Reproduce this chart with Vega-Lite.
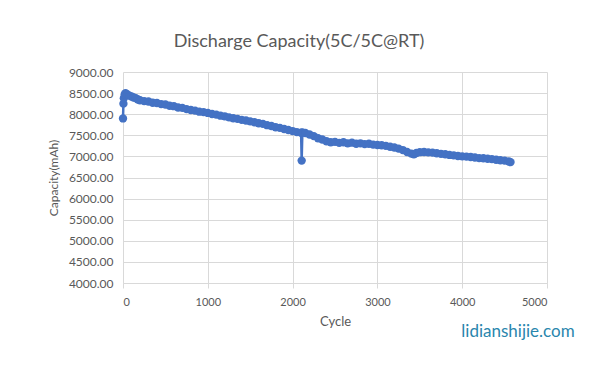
{
  "$schema": "https://vega.github.io/schema/vega-lite/v6.json",
  "width": 424,
  "height": 211,
  "autosize": {"type": "none"},
  "padding": {"left": 123, "top": 72, "right": 53, "bottom": 83},
  "background": "white",
  "title": {
    "text": "Discharge Capacity(5C/5C@RT)",
    "anchor": "middle",
    "dx": -36,
    "offset": 15,
    "font": "Lato",
    "fontSize": 18,
    "fontWeight": "normal",
    "color": "#595959"
  },
  "config": {
    "view": {"stroke": null},
    "axis": {
      "labelFont": "Lato",
      "titleFont": "Lato",
      "labelColor": "#595959",
      "titleColor": "#595959",
      "titleFontWeight": "normal",
      "gridColor": "#d9d9d9",
      "domainColor": "#d9d9d9",
      "tickColor": "#d9d9d9"
    }
  },
  "layer": [
    {
      "data": {"name": "series"},
      "encoding": {
        "x": {
          "field": "cycle",
          "type": "quantitative",
          "scale": {"domain": [0, 5000], "nice": false, "zero": false},
          "axis": {
            "title": "Cycle",
            "values": [0, 1000, 2000, 3000, 4000, 5000],
            "format": "d",
            "labelFontSize": 11,
            "labelPadding": 8,
            "tickSize": 5,
            "titleFontSize": 13,
            "titlePadding": 8,
            "domain": true,
            "grid": true
          }
        },
        "y": {
          "field": "capacity",
          "type": "quantitative",
          "scale": {"domain": [4000, 9000], "nice": false, "zero": false},
          "axis": {
            "title": "Capacity(mAh)",
            "values": [4000, 4500, 5000, 5500, 6000, 6500, 7000, 7500, 8000, 8500, 9000],
            "format": ".2f",
            "labelFontSize": 12,
            "labelPadding": 10,
            "ticks": false,
            "domain": false,
            "titleFontSize": 12,
            "titlePadding": 8,
            "grid": true
          }
        }
      },
      "layer": [
        {"mark": {"type": "line", "color": "#4472C4", "strokeWidth": 2.5}},
        {"mark": {"type": "point", "filled": true, "color": "#4472C4", "opacity": 1, "size": 70}}
      ]
    },
    {
      "data": {"values": [{"label": "lidianshijie.com", "cycle": 4658, "capacity": 2839}]},
      "mark": {"type": "text", "font": "Lato", "fontSize": 17, "fontWeight": "normal", "color": "#2a86ad", "align": "center", "baseline": "middle"},
      "encoding": {
        "text": {"field": "label", "type": "nominal"},
        "x": {
          "field": "cycle",
          "type": "quantitative",
          "scale": {"domain": [0, 5000], "nice": false, "zero": false},
          "axis": {
            "title": "Cycle",
            "values": [0, 1000, 2000, 3000, 4000, 5000],
            "format": "d",
            "labelFontSize": 11,
            "labelPadding": 8,
            "tickSize": 5,
            "titleFontSize": 13,
            "titlePadding": 8,
            "domain": true,
            "grid": true
          }
        },
        "y": {
          "field": "capacity",
          "type": "quantitative",
          "scale": {"domain": [4000, 9000], "nice": false, "zero": false},
          "axis": {
            "title": "Capacity(mAh)",
            "values": [4000, 4500, 5000, 5500, 6000, 6500, 7000, 7500, 8000, 8500, 9000],
            "format": ".2f",
            "labelFontSize": 12,
            "labelPadding": 10,
            "ticks": false,
            "domain": false,
            "titleFontSize": 12,
            "titlePadding": 8,
            "grid": true
          }
        }
      }
    }
  ],
  "datasets": {
    "series": [
      {"cycle": 0, "capacity": 7900},
      {"cycle": 5, "capacity": 8250},
      {"cycle": 10, "capacity": 8380},
      {"cycle": 20, "capacity": 8470},
      {"cycle": 30, "capacity": 8500},
      {"cycle": 50, "capacity": 8470},
      {"cycle": 75, "capacity": 8440},
      {"cycle": 100, "capacity": 8420},
      {"cycle": 125, "capacity": 8395},
      {"cycle": 150, "capacity": 8380},
      {"cycle": 175, "capacity": 8350},
      {"cycle": 200, "capacity": 8330},
      {"cycle": 250, "capacity": 8310},
      {"cycle": 300, "capacity": 8300},
      {"cycle": 350, "capacity": 8270},
      {"cycle": 400, "capacity": 8265},
      {"cycle": 450, "capacity": 8240},
      {"cycle": 500, "capacity": 8230},
      {"cycle": 550, "capacity": 8200},
      {"cycle": 600, "capacity": 8190},
      {"cycle": 650, "capacity": 8160},
      {"cycle": 700, "capacity": 8150},
      {"cycle": 750, "capacity": 8120},
      {"cycle": 800, "capacity": 8100},
      {"cycle": 850, "capacity": 8085},
      {"cycle": 900, "capacity": 8060},
      {"cycle": 950, "capacity": 8050},
      {"cycle": 1000, "capacity": 8030},
      {"cycle": 1050, "capacity": 8005},
      {"cycle": 1100, "capacity": 7990},
      {"cycle": 1150, "capacity": 7965},
      {"cycle": 1200, "capacity": 7950},
      {"cycle": 1250, "capacity": 7925},
      {"cycle": 1300, "capacity": 7905},
      {"cycle": 1350, "capacity": 7890},
      {"cycle": 1400, "capacity": 7865},
      {"cycle": 1450, "capacity": 7850},
      {"cycle": 1500, "capacity": 7830},
      {"cycle": 1550, "capacity": 7810},
      {"cycle": 1600, "capacity": 7785},
      {"cycle": 1650, "capacity": 7770},
      {"cycle": 1700, "capacity": 7740},
      {"cycle": 1750, "capacity": 7720},
      {"cycle": 1800, "capacity": 7690},
      {"cycle": 1850, "capacity": 7675},
      {"cycle": 1900, "capacity": 7650},
      {"cycle": 1950, "capacity": 7625},
      {"cycle": 2000, "capacity": 7600},
      {"cycle": 2050, "capacity": 7575},
      {"cycle": 2100, "capacity": 7560},
      {"cycle": 2107, "capacity": 6900},
      {"cycle": 2115, "capacity": 7565},
      {"cycle": 2150, "capacity": 7555},
      {"cycle": 2200, "capacity": 7520},
      {"cycle": 2250, "capacity": 7480},
      {"cycle": 2300, "capacity": 7430},
      {"cycle": 2350, "capacity": 7400},
      {"cycle": 2400, "capacity": 7360},
      {"cycle": 2450, "capacity": 7335},
      {"cycle": 2500, "capacity": 7345},
      {"cycle": 2550, "capacity": 7320},
      {"cycle": 2600, "capacity": 7335},
      {"cycle": 2650, "capacity": 7310},
      {"cycle": 2700, "capacity": 7325},
      {"cycle": 2750, "capacity": 7300},
      {"cycle": 2800, "capacity": 7310},
      {"cycle": 2850, "capacity": 7290},
      {"cycle": 2900, "capacity": 7300},
      {"cycle": 2950, "capacity": 7280},
      {"cycle": 3000, "capacity": 7270},
      {"cycle": 3050, "capacity": 7265},
      {"cycle": 3100, "capacity": 7250},
      {"cycle": 3150, "capacity": 7230},
      {"cycle": 3200, "capacity": 7210},
      {"cycle": 3250, "capacity": 7185},
      {"cycle": 3300, "capacity": 7150},
      {"cycle": 3350, "capacity": 7105},
      {"cycle": 3400, "capacity": 7065},
      {"cycle": 3430, "capacity": 7050},
      {"cycle": 3460, "capacity": 7080},
      {"cycle": 3500, "capacity": 7100},
      {"cycle": 3550, "capacity": 7105},
      {"cycle": 3600, "capacity": 7095},
      {"cycle": 3650, "capacity": 7090},
      {"cycle": 3700, "capacity": 7075},
      {"cycle": 3750, "capacity": 7060},
      {"cycle": 3800, "capacity": 7050},
      {"cycle": 3850, "capacity": 7035},
      {"cycle": 3900, "capacity": 7025},
      {"cycle": 3950, "capacity": 7010},
      {"cycle": 4000, "capacity": 7000},
      {"cycle": 4050, "capacity": 6995},
      {"cycle": 4100, "capacity": 6985},
      {"cycle": 4150, "capacity": 6975},
      {"cycle": 4200, "capacity": 6960},
      {"cycle": 4250, "capacity": 6955},
      {"cycle": 4300, "capacity": 6945},
      {"cycle": 4350, "capacity": 6935},
      {"cycle": 4400, "capacity": 6920},
      {"cycle": 4450, "capacity": 6910},
      {"cycle": 4500, "capacity": 6900},
      {"cycle": 4550, "capacity": 6880},
      {"cycle": 4570, "capacity": 6865}
    ]
  }
}
